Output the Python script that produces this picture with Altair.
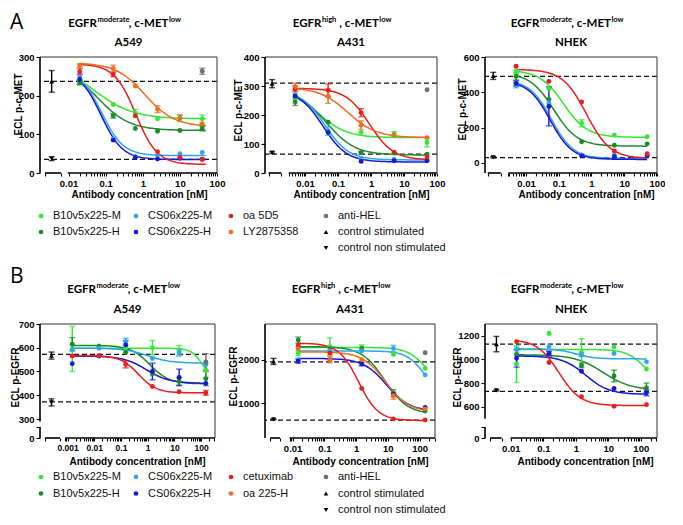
import altair as alt
import pandas as pd

# ---------------- series keys / colours ----------------
SERIES = ["LG", "DG", "LB", "DB", "RD", "OR", "GR", "BK"]
COLORS = ["#33e633", "#1c8a2c", "#2ea6ee", "#1717d6", "#ec1d1d", "#f26b1f", "#6f6f6f", "#000000"]
COLOR_SCALE = alt.Scale(domain=SERIES, range=COLORS)
SHAPES = ["circle", "triangle-up", "triangle-down"]
SHAPE_SCALE = alt.Scale(domain=SHAPES, range=SHAPES)

# ---------------- A: p-c-MET, A549 ----------------
A549_MET_X = [0.02, 0.16, 0.63, 2.5, 10, 40]
A549_MET_Y = {"LG": [235, 177, 155, 140, 142, 140], "DG": [233, 148, 115, 108, 110, 115],
              "LB": [248, 88, 42, 45, 50, 53], "DB": [242, 85, 40, 36, 38, 36],
              "RD": [262, 255, 148, 55, 40, 35], "OR": [278, 270, 225, 165, 142, 127]}
A549_MET_ERR = {"LG": [5, 0, 10, 0, 9, 10], "DG": [5, 6, 0, 0, 0, 6], "LB": [8, 0, 0, 0, 0, 0],
                "DB": [0, 0, 0, 0, 0, 0], "RD": [8, 6, 0, 0, 0, 0], "OR": [4, 9, 0, 9, 8, 0]}
A549_MET_FIT = {"LG": [290, 140, 0.047, 0.82], "DG": [280, 110, 0.06, 1.0], "LB": [265, 45, 0.079, 1.5],
                "DB": [265, 35, 0.075, 1.5], "RD": [282, 22, 0.65, 1.5], "OR": [285, 120, 1.15, 1.1]}
A549_MET_CTRL = [0.0035, 237, 28, 37, 5]
A549_MET_HEL = [40, 263, 8]
A549_MET_REF = [237, 35]

# ---------------- A: p-c-MET, A431 ----------------
A431_MET_X = [0.005, 0.05, 0.5, 5, 50]
A431_MET_Y = {"LG": [255, 175, 140, 135, 105], "DG": [245, 175, 70, 70, 65], "LB": [270, 145, 50, 47, 45],
              "DB": [265, 140, 40, 42, 42], "RD": [290, 285, 208, 72, 55], "OR": [298, 265, 165, 130, 122]}
A431_MET_ERR = {"LG": [0, 0, 0, 8, 15], "DG": [12, 0, 5, 0, 0], "LB": [0, 15, 0, 0, 0],
                "DB": [0, 0, 0, 0, 0], "RD": [10, 22, 14, 0, 0], "OR": [12, 25, 15, 0, 0]}
A431_MET_FIT = {"LG": [290, 122, 0.025, 1.0], "DG": [285, 62, 0.045, 1.0], "LB": [285, 45, 0.04, 1.2],
                "DB": [285, 38, 0.035, 1.2], "RD": [292, 45, 0.9, 1.2], "OR": [295, 122, 0.2, 1.0]}
A431_MET_CTRL = [0.001, 308, 14, 70, 3]
A431_MET_HEL = [50, 287, 0]
A431_MET_REF = [310, 65]

# ---------------- A: p-c-MET, NHEK ----------------
NHEK_MET_X = [0.005, 0.05, 0.5, 5, 50]
NHEK_MET_Y = {"LG": [515, 420, 225, 158, 148], "DG": [490, 360, 120, 100, 108], "LB": [440, 340, 45, 45, 40],
              "DB": [450, 320, 40, 35, 40], "RD": [548, 462, 345, 68, 52]}
NHEK_MET_ERR = {"LG": [15, 0, 20, 0, 0], "DG": [20, 0, 0, 0, 0], "LB": [15, 0, 0, 0, 0],
                "DB": [15, 110, 0, 0, 0], "RD": [0, 0, 0, 0, 0]}
NHEK_MET_FIT = {"LG": [525, 145, 0.14, 1.2], "DG": [510, 95, 0.07, 1.2], "LB": [470, 25, 0.06, 1.3],
                "DB": [465, 20, 0.055, 1.3], "RD": [530, 25, 0.7, 1.2]}
NHEK_MET_CTRL = [0.001, 493, 20, 32, 4]
NHEK_MET_HEL = None
NHEK_MET_REF = [490, 30]

# ---------------- B: p-EGFR, A549 ----------------
A549_EGFR_X = [0.0015, 0.015, 0.15, 1.5, 15, 150]
A549_EGFR_Y = {"LG": [595, 608, 598, 600, 590, 505], "DG": [615, 605, 580, 490, 458, 470],
               "LB": [592, 598, 625, 555, 580, 530], "DB": [533, 565, 612, 500, 475, 450],
               "RD": [565, 567, 530, 437, 415, 410]}
A549_EGFR_ERR = {"LG": [95, 0, 0, 30, 20, 30], "DG": [28, 0, 0, 0, 15, 30], "LB": [0, 0, 15, 0, 15, 0],
                 "DB": [0, 0, 18, 35, 35, 0], "RD": [0, 0, 15, 0, 0, 10]}
A549_EGFR_FIT = {"LG": [598, 450, 120, 2.0], "DG": [610, 448, 1.2, 1.2], "LB": [598, 535, 1.0, 1.0],
                 "DB": [565, 450, 0.9, 1.0], "RD": [567, 410, 0.45, 1.3]}
A549_EGFR_CTRL = [0.00025, 567, 15, 370, 15]
A549_EGFR_HEL = [150, 540, 35]
A549_EGFR_REF = [572, 372]

# ---------------- B: p-EGFR, A431 ----------------
A431_EGFR_X = [0.015, 0.15, 1.5, 15, 150]
A431_EGFR_Y = {"LG": [2150, 2300, 2280, 2120, 1800], "DG": [2450, 2250, 2250, 1230, 820],
               "LB": [2000, 2200, 2200, 2260, 1650], "DB": [1970, 2000, 1900, 1200, 900],
               "RD": [2330, 2150, 1340, 640, 615], "OR": [2250, 2000, 2000, 1170, 870]}
A431_EGFR_ERR = {"LG": [60, 200, 60, 0, 0], "DG": [70, 0, 0, 80, 0], "LB": [0, 0, 0, 70, 0],
                 "DB": [50, 0, 40, 0, 0], "RD": [0, 0, 0, 0, 0], "OR": [0, 70, 0, 80, 0]}
A431_EGFR_FIT = {"LG": [2280, 1400, 150, 1.5], "DG": [2300, 750, 8, 1.2], "LB": [2200, 1100, 150, 1.5],
                 "DB": [2030, 820, 9, 1.2], "RD": [2380, 600, 1.2, 1.4], "OR": [2180, 800, 8.5, 1.2]}
A431_EGFR_CTRL = [0.0025, 1960, 70, 630, 10]
A431_EGFR_HEL = [150, 2160, 0]
A431_EGFR_REF = [1950, 610]

# ---------------- B: p-EGFR, NHEK ----------------
NHEK_EGFR_X = [0.015, 0.15, 1.5, 15, 150]
NHEK_EGFR_Y = {"LG": [962, 1220, 1060, 1105, 920], "DG": [1040, 1050, 950, 860, 760],
               "LB": [1080, 1110, 1040, 1050, 980], "DB": [1010, 1050, 900, 755, 718],
               "RD": [1150, 975, 685, 605, 618]}
NHEK_EGFR_ERR = {"LG": [156, 0, 115, 0, 0], "DG": [0, 0, 20, 50, 40], "LB": [25, 0, 15, 0, 0],
                 "DB": [75, 20, 0, 0, 25], "RD": [0, 0, 0, 0, 0]}
NHEK_EGFR_FIT = {"LG": [1085, 750, 150, 1.5], "DG": [1040, 740, 7, 1.0], "LB": [1090, 1005, 1.0, 1.5],
                 "DB": [1030, 705, 2.0, 1.2], "RD": [1170, 610, 0.3, 1.3]}
NHEK_EGFR_CTRL = [0.0036, 1130, 65, 738, 5]
NHEK_EGFR_HEL = None
NHEK_EGFR_REF = [1130, 730]

# ---------------- legend texts ----------------
LEG_A_LABELS = [["B10v5x225-M", "B10v5x225-H"], ["CS06x225-M", "CS06x225-H"], ["oa 5D5", "LY2875358"],
                ["anti-HEL", "control stimulated", "control non stimulated"]]
LEG_B_LABELS = [["B10v5x225-M", "B10v5x225-H"], ["CS06x225-M", "CS06x225-H"], ["cetuximab", "oa 225-H"],
                ["anti-HEL", "control stimulated", "control non stimulated"]]
LEG_KEYS = [["LG", "DG"], ["LB", "DB"], ["RD", "OR"], ["GR", "BK", "BK"]]
LEG_SHAPES = [["circle", "circle"], ["circle", "circle"], ["circle", "circle"],
              ["circle", "triangle-up", "triangle-down"]]

HEAD_MOD = ["EGFR", "moderate", ", c-MET", "low"]
HEAD_HIGH = ["EGFR", "high", ", c-MET", "low"]

T_GRID = [i / 80 for i in range(81)]
ONE = pd.DataFrame({"o": [0]})
AXFONT = "Liberation Sans Narrow, Liberation Sans, Arial, sans-serif"
TFONT = "Lato, Open Sans, sans-serif"


def yexpr(zero_at, blanks):
    e = "format(datum.value, 'd')"
    for b in blanks:
        e = f"datum.value == {b} ? '' : ({e})"
    if zero_at is not None:
        e = f"datum.value == {zero_at} ? '0' : ({e})"
    return e


def xexpr(labeled):
    arr = ", ".join(repr(v) for v in labeled)
    return f"indexof([{arr}], datum.value) >= 0 ? format(datum.value, '~g') : ''"


def txt(s, x, y, size, align="center", baseline="alphabetic", font=TFONT, weight="bold"):
    return alt.Chart(ONE).mark_text(text=s, align=align, baseline=baseline, fontSize=size, font=font,
                                    fontWeight=weight, color="black").encode(x=alt.value(x), y=alt.value(y))


def panel(L, X, Y, ERR, FIT, CTRL, HEL, REF):
    W, H = L["W"], L["H"]
    xmin, xmax = L["xdom"]
    ymin, ymax = L["ydom"]
    xs = alt.Scale(type="log", domain=L["xdom"], nice=False)
    ys = alt.Scale(domain=L["ydom"], nice=False, zero=False)
    minors = [k * 10.0 ** d for d in range(-5, 3) for k in range(2, 10)
              if L["main0"] <= k * 10.0 ** d <= xmax]
    xvals = sorted(L["xcaps"] + L["xdec"] + minors)
    AX = alt.Axis(values=xvals, labelExpr=xexpr(L["xdec"]), labelOverlap=False, labelFlush=False,
                  domain=False, grid=False, tickSize=3, tickWidth=1.1, tickColor="black",
                  labelFont=AXFONT, labelFontSize=L["xlfs"], labelFontWeight="bold", labelColor="black",
                  labelPadding=2, title="Antibody concentration [nM]", titleFont=AXFONT, titleFontSize=10,
                  titleFontWeight="bold", titleColor="black", titleX=L["xtx"], titleY=L["xty"],
                  titleBaseline="middle", titleAlign="center")
    AY = alt.Axis(values=L["yvals"], labelExpr=yexpr(L["zero_at"], L["yblanks"]), labelOverlap=False,
                  labelFlush=False, domain=False, grid=False, tickSize=4, tickWidth=1.1, tickColor="black",
                  labelFont=AXFONT, labelFontSize=9.5, labelFontWeight="bold", labelColor="black",
                  labelPadding=2, title=L["ytitle"], titleFont=AXFONT, titleFontSize=10,
                  titleFontWeight="bold", titleColor="black", titleX=L["ytx"], titleY=L["yty"],
                  titleBaseline="middle", titleAlign="center", titleAngle=-90)

    def ex(f):
        return alt.X(f, type="quantitative", scale=xs, axis=AX)

    def ey(f):
        return alt.Y(f, type="quantitative", scale=ys, axis=AY)

    col = alt.Color("key:N", scale=COLOR_SCALE, legend=None)

    pts, errs, caps = [], [], []
    for k, vals in Y.items():
        for xi, yi, ei in zip(X, vals, ERR[k]):
            pts.append({"x": xi, "y": yi, "key": k})
            if ei:
                errs.append({"x": xi, "lo": yi - ei, "hi": yi + ei, "key": k})
                caps += [{"x": xi, "y": yi - ei, "key": k}, {"x": xi, "y": yi + ei, "key": k}]
    if HEL:
        pts.append({"x": HEL[0], "y": HEL[1], "key": "GR"})
        if HEL[2]:
            errs.append({"x": HEL[0], "lo": HEL[1] - HEL[2], "hi": HEL[1] + HEL[2], "key": "GR"})
            caps += [{"x": HEL[0], "y": HEL[1] - HEL[2], "key": "GR"},
                     {"x": HEL[0], "y": HEL[1] + HEL[2], "key": "GR"}]
    cx, s_y, s_e, n_y, n_e = CTRL
    ctrl = [{"x": cx, "y": s_y, "shape": "triangle-up"}, {"x": cx, "y": n_y, "shape": "triangle-down"}]
    for yy, ee in ((s_y, s_e), (n_y, n_e)):
        errs.append({"x": cx, "lo": yy - ee, "hi": yy + ee, "key": "BK"})
        caps += [{"x": cx, "y": yy - ee, "key": "BK"}, {"x": cx, "y": yy + ee, "key": "BK"}]

    fits = [{"key": k, "top": v[0], "bottom": v[1], "ec50": v[2], "hill": v[3],
             "x0": L["fit"][0], "x1": L["fit"][1], "t": T_GRID} for k, v in FIT.items()]

    ref = alt.Chart(pd.DataFrame({"y": REF})).mark_rule(color="#111", strokeDash=[5, 3], strokeWidth=1.3).encode(
        y=ey("y"))
    curve = alt.Chart(alt.Data(values=fits)).transform_flatten(["t"]).transform_calculate(
        x="pow(10, log(datum.x0) / LN10 + datum.t * (log(datum.x1) - log(datum.x0)) / LN10)",
        y="datum.bottom + (datum.top - datum.bottom) / (1 + pow(datum.x / datum.ec50, datum.hill))"
    ).mark_line(strokeWidth=1.5).encode(x=ex("x"), y=ey("y"), color=col, detail="key:N")
    err = alt.Chart(alt.Data(values=errs)).mark_rule(strokeWidth=1.4).encode(
        x=ex("x"), y=ey("lo"), y2="hi:Q", color=col)
    cap = alt.Chart(alt.Data(values=caps)).mark_tick(orient="horizontal", size=6, thickness=1.4).encode(
        x=ex("x"), y=ey("y"), color=col)
    dots = alt.Chart(alt.Data(values=pts)).mark_circle(size=24, opacity=1).encode(x=ex("x"), y=ey("y"), color=col)
    tri = alt.Chart(alt.Data(values=ctrl)).mark_point(filled=True, size=24, opacity=1, color="black").encode(
        x=ex("x"), y=ey("y"), shape=alt.Shape("shape:N", scale=SHAPE_SCALE, legend=None))

    frame_rows = [{"x": xmin, "x2": xmax, "y": ymax, "y2": ymax},
                  {"x": xmax, "x2": xmax, "y": ymin, "y2": ymax}]
    axis_rows = [{"x": L["ctrlseg"][0], "x2": L["ctrlseg"][1], "y": ymin, "y2": ymin},
                 {"x": L["main0"], "x2": xmax, "y": ymin, "y2": ymin}]
    for a, b in L["ysegs"]:
        axis_rows.append({"x": xmin, "x2": xmin, "y": a, "y2": b})
    frame = alt.Chart(alt.Data(values=frame_rows)).mark_rule(color="#333", strokeWidth=1).encode(
        x=ex("x"), x2="x2:Q", y=ey("y"), y2="y2:Q")
    axl = alt.Chart(alt.Data(values=axis_rows)).mark_rule(color="black", strokeWidth=1.6).encode(
        x=ex("x"), x2="x2:Q", y=ey("y"), y2="y2:Q")

    c = W / 2
    h = L["head"]
    yb, yb2 = L["heady"]
    texts = [
        txt(h[0], c + L["p1"], yb, 11.5, align="right"),
        txt(h[1], c + L["p1"] + 0.5, yb - 5, 7.5, align="left"),
        txt(h[2], c + L["p2"], yb, 11.5, align="right"),
        txt(h[3], c + L["p2"] + 0.5, yb - 5, 7.5, align="left"),
        txt(L["cell"], c, yb2, 11.5, align="center"),
    ]
    if L.get("letter"):
        texts.append(txt(L["letter"], -30, L["lettery"], 21, align="left", baseline="top",
                         font="Open Sans, Liberation Sans", weight="normal"))
    return alt.layer(ref, curve, err, cap, dots, tri, frame, axl, *texts).properties(width=W, height=H)


DEC2 = [0.01, 0.1, 1, 10, 100]
DEC3 = [0.001, 0.01, 0.1, 1, 10, 100]

LA1 = dict(W=177, H=116, xdom=[0.0017, 100], ydom=[0, 300], yvals=[0, 100, 200, 300], zero_at=None, yblanks=[],
           ysegs=[(0, 300)], xdec=DEC2, xcaps=[0.0023, 0.0063], ctrlseg=(0.0023, 0.0063), main0=0.0095,
           fit=(0.02, 50), ytitle="ECL p-c-MET", ytx=-22, yty=47, xtx=99, xty=21, xlfs=9.5, head=HEAD_MOD,
           p1=-31.5, p2=40, heady=(-30, -11), cell="A549", letter="A", lettery=-45)
LA2 = dict(W=172, H=116, xdom=[0.00061, 100], ydom=[0, 400], yvals=[0, 100, 200, 300, 400], zero_at=None,
           yblanks=[], ysegs=[(0, 400)], xdec=DEC2, xcaps=[0.00078, 0.0019, 0.0032], ctrlseg=(0.00078, 0.0019),
           main0=0.0032, fit=(0.005, 50), ytitle="ECL p-c-MET", ytx=-27, yty=53, xtx=96, xty=21, xlfs=9.5,
           head=HEAD_HIGH, p1=-29.5, p2=27.8, heady=(-30, -11), cell="A431")
LA3 = dict(W=172, H=116, xdom=[0.00056, 100], ydom=[-57, 600], yvals=[0, 200, 400, 600], zero_at=None,
           yblanks=[], ysegs=[(-57, 600)], xdec=DEC2, xcaps=[0.00068, 0.0017, 0.0029], ctrlseg=(0.00068, 0.0017),
           main0=0.0029, fit=(0.005, 50), ytitle="ECL p-c-MET", ytx=-23, yty=52, xtx=101, xty=21, xlfs=9.5,
           head=HEAD_MOD, p1=-31.5, p2=40, heady=(-30, -11), cell="NHEK")
LB1 = dict(W=175, H=114, xdom=[0.000093, 330], ydom=[220, 700], yvals=[220, 266, 300, 400, 500, 600, 700],
           zero_at=220, yblanks=[266], ysegs=[(220, 266), (290, 700)], xdec=DEC3,
           xcaps=[0.00014, 0.00052, 0.0008], ctrlseg=(0.00014, 0.00052), main0=0.0008, fit=(0.0015, 150),
           ytitle="ECL p-EGFR", ytx=-25, yty=53, xtx=97, xty=23, xlfs=8.5, head=HEAD_MOD, p1=-31.5, p2=40,
           heady=(-31.5, -11.5), cell="A549", letter="B", lettery=-58)
LB2 = dict(W=170, H=114, xdom=[0.00135, 306], ydom=[200, 2820], yvals=[1000, 2000], zero_at=None, yblanks=[],
           ysegs=[(200, 2820)], xdec=DEC2, xcaps=[0.00195, 0.004, 0.008], ctrlseg=(0.00195, 0.004), main0=0.008,
           fit=(0.015, 150), ytitle="ECL p-EGFR", ytx=-32, yty=52, xtx=95, xty=23, xlfs=9.5, head=HEAD_HIGH,
           p1=-29.5, p2=27.8, heady=(-31.5, -11.5), cell="A431")
LB3 = dict(W=172, H=114, xdom=[0.0016, 316], ydom=[336, 1300], yvals=[336, 430, 600, 800, 1000, 1200],
           zero_at=336, yblanks=[430], ysegs=[(336, 430), (498, 1300)], xdec=DEC2, xcaps=[0.0023, 0.0052],
           ctrlseg=(0.0023, 0.0052), main0=0.0098, fit=(0.015, 150), ytitle="ECL p-EGFR", ytx=-28, yty=53,
           xtx=100, xty=23, xlfs=9.5, head=HEAD_MOD, p1=-31.5, p2=40, heady=(-31.5, -11.5), cell="NHEK")


def legend_chart(labels, yr, W, H):
    rows = []
    for ci, (labs, keys, shapes) in enumerate(zip(labels, LEG_KEYS, LEG_SHAPES)):
        for ri, (lab, k, s) in enumerate(zip(labs, keys, shapes)):
            rows.append({"col": ci, "row": ri, "label": lab, "key": k, "shape": s})
    xsc = alt.Scale(domain=[0, 3], range=[1, 286])
    ysc = alt.Scale(domain=[0, 2], range=yr)
    base = alt.Chart(alt.Data(values=rows)).encode(
        x=alt.X("col:Q", scale=xsc, axis=None), y=alt.Y("row:Q", scale=ysc, axis=None))
    marks = base.mark_point(filled=True, size=22, opacity=1).encode(
        color=alt.Color("key:N", scale=COLOR_SCALE, legend=None),
        shape=alt.Shape("shape:N", scale=SHAPE_SCALE, legend=None))
    texts = base.mark_text(align="left", dx=12, fontSize=11, font=AXFONT, color="#111").encode(text="label:N")
    return alt.layer(marks, texts).properties(width=W, height=H)


def blank(W, H):
    return alt.Chart(ONE).mark_point(opacity=0).encode(x=alt.value(0), y=alt.value(0)).properties(width=W, height=H)


pA1 = panel(LA1, A549_MET_X, A549_MET_Y, A549_MET_ERR, A549_MET_FIT, A549_MET_CTRL, A549_MET_HEL, A549_MET_REF)
pA2 = panel(LA2, A431_MET_X, A431_MET_Y, A431_MET_ERR, A431_MET_FIT, A431_MET_CTRL, A431_MET_HEL, A431_MET_REF)
pA3 = panel(LA3, NHEK_MET_X, NHEK_MET_Y, NHEK_MET_ERR, NHEK_MET_FIT, NHEK_MET_CTRL, NHEK_MET_HEL, NHEK_MET_REF)
pB1 = panel(LB1, A549_EGFR_X, A549_EGFR_Y, A549_EGFR_ERR, A549_EGFR_FIT, A549_EGFR_CTRL, A549_EGFR_HEL,
            A549_EGFR_REF)
pB2 = panel(LB2, A431_EGFR_X, A431_EGFR_Y, A431_EGFR_ERR, A431_EGFR_FIT, A431_EGFR_CTRL, A431_EGFR_HEL,
            A431_EGFR_REF)
pB3 = panel(LB3, NHEK_EGFR_X, NHEK_EGFR_Y, NHEK_EGFR_ERR, NHEK_EGFR_FIT, NHEK_EGFR_CTRL, NHEK_EGFR_HEL,
            NHEK_EGFR_REF)

legA = legend_chart(LEG_A_LABELS, [15, 47], 170, 95)
legB = legend_chart(LEG_B_LABELS, [11, 44], 170, 50)

chart = alt.concat(
    pA1, pA2, pA3,
    legA, blank(170, 95), blank(170, 95),
    pB1, pB2, pB3,
    legB, blank(170, 50), blank(170, 50),
    columns=3, spacing={"row": 28, "column": 48}, bounds="flush",
).properties(padding={"left": 2, "top": 4, "right": 0, "bottom": 0},
             background="white").configure_view(stroke=None)

chart.save("out.html", embed_options={"renderer": "svg", "actions": False})
